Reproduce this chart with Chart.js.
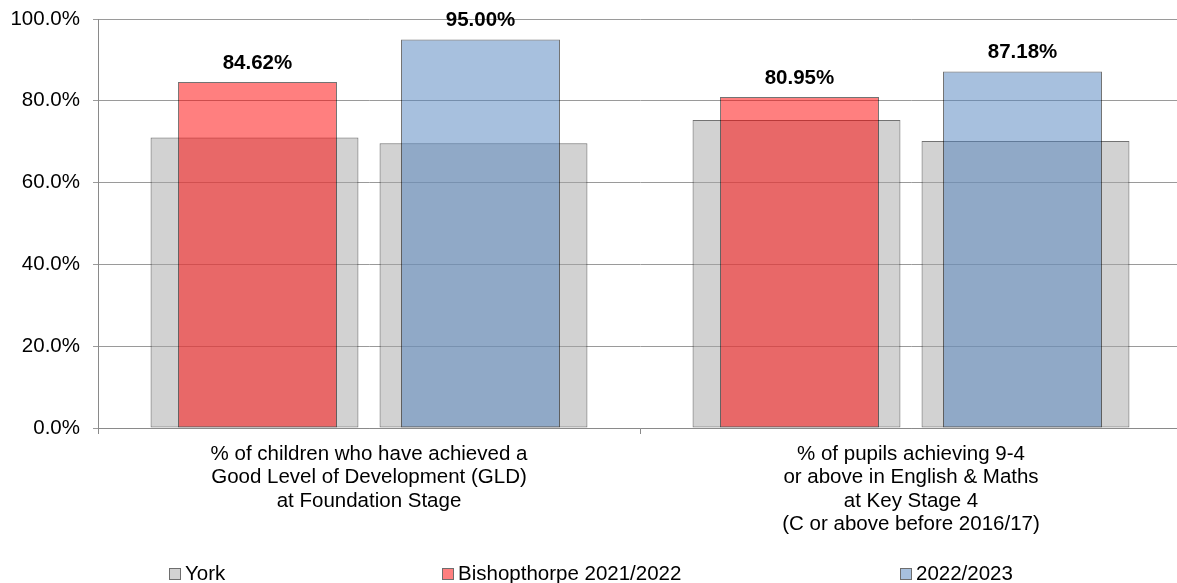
<!DOCTYPE html>
<html>
<head>
<meta charset="utf-8">
<title>York vs Bishopthorpe</title>
<script src="https://cdn.jsdelivr.net/npm/chart.js@4.4.1/dist/chart.umd.min.js"></script>
<style>
  html, body { margin: 0; padding: 0; background: #fff; overflow: hidden; }
  #wrap { position: relative; width: 1177px; height: 583px; overflow: hidden; }
  #chart-box { position: absolute; left: 0; top: 0; width: 1190px; height: 583px; }
  .legend-item { position: absolute; top: 562px; height: 22px; font: 20.5px 'Liberation Sans', Arial, sans-serif; line-height: 22px; color: #000; white-space: nowrap; }
  .legend-swatch { position: absolute; left: 0; top: 6px; width: 10px; height: 10px; border: 1px solid #6e6e6e; }
  .legend-text { position: absolute; left: 16px; top: 0; }
</style>
</head>
<body>
<div id="wrap">
  <div id="chart-box"><canvas id="results-chart"></canvas></div>
  <div id="legend"></div>
</div>
<script>
// --- data ---
const categories = [
    ['% of children who have achieved a', 'Good Level of Development (GLD)', 'at Foundation Stage'],
    ['% of pupils achieving 9-4', 'or above in English & Maths', 'at Key Stage 4', '(C or above before 2016/17)']
];
const yorkFirstYear = [71.0, 75.3];
const yorkSecondYear = [69.6, 70.2];
const bishopthorpe2122 = [84.62, 80.95];
const bishopthorpe2223 = [95.00, 87.18];
const yTicks = [0, 20, 40, 60, 80, 100];

const FONT = "'Liberation Sans', Arial, sans-serif";
const greyFill = 'rgba(165,165,165,0.5)';
const redFill = 'rgba(255,0,0,0.5)';
const blueFill = 'rgba(79,129,189,0.5)';
const barEdge = 'rgba(0,0,0,0.55)';

// draws the bold value above the Bishopthorpe bars
const valueLabels = {
    id: 'valueLabels',
    afterDatasetsDraw(chart) {
        const ctx = chart.ctx;
        ctx.save();
        ctx.font = 'bold 20.5px ' + FONT;
        ctx.fillStyle = '#000';
        ctx.textAlign = 'center';
        ctx.textBaseline = 'alphabetic';
        chart.data.datasets.forEach((ds, i) => {
            if (!ds.showValue) return;
            chart.getDatasetMeta(i).data.forEach((bar, j) => {
                ctx.fillText(ds.data[j].toFixed(2) + '%', bar.x, bar.y - 13);
            });
        });
        ctx.restore();
    }
};

// York bars sit behind the Bishopthorpe bars of the same year slot ('a' / 'b')
const datasets = [
    {
        label: 'York', data: yorkFirstYear, stack: 'a',
        backgroundColor: greyFill, borderColor: barEdge, borderWidth: 1, borderSkipped: false,
        categoryPercentage: 0.845, barPercentage: 0.908, order: 2
    },
    {
        label: 'York', data: yorkSecondYear, stack: 'b', hideInLegend: true,
        backgroundColor: greyFill, borderColor: barEdge, borderWidth: 1, borderSkipped: false,
        categoryPercentage: 0.845, barPercentage: 0.908, order: 2
    },
    {
        label: 'Bishopthorpe 2021/2022', data: bishopthorpe2122, stack: 'a', showValue: true,
        backgroundColor: redFill, borderColor: barEdge, borderWidth: 1, borderSkipped: false,
        categoryPercentage: 0.823, barPercentage: 0.713, order: 1
    },
    {
        label: '2022/2023', data: bishopthorpe2223, stack: 'b', showValue: true,
        backgroundColor: blueFill, borderColor: barEdge, borderWidth: 1, borderSkipped: false,
        categoryPercentage: 0.823, barPercentage: 0.713, order: 1
    }
];

const chart = new Chart(document.getElementById('results-chart'), {
    type: 'bar',
    data: { labels: categories, datasets: datasets },
    options: {
        responsive: true,
        maintainAspectRatio: false,
        animation: false,
        layout: { padding: { top: 19, right: 8, bottom: 0, left: 0 } },
        plugins: {
            legend: { display: false },
            tooltip: { enabled: false }
        },
        scales: {
            x: {
                type: 'category',
                offset: true,
                grid: { display: true, drawOnChartArea: false, offset: true, tickLength: 6, color: '#8a8a8a' },
                border: { color: '#8a8a8a' },
                ticks: {
                    color: '#000', padding: 9, maxRotation: 0, autoSkip: false,
                    font: { family: FONT, size: 20.5, lineHeight: 1.13 }
                },
                afterFit(scale) { scale.height = 155; }
            },
            y: {
                min: 0,
                max: 100,
                stacked: false,
                grid: { color: '#9a9a9a', tickLength: 5 },
                border: { color: '#8a8a8a' },
                ticks: {
                    color: '#000', padding: 13,
                    font: { family: FONT, size: 20.5 },
                    callback: v => v.toFixed(1) + '%'
                },
                afterBuildTicks(scale) { scale.ticks = yTicks.map(v => ({ value: v })); },
                afterFit(scale) {
                    scale.width = 98;
                    scale.paddingTop = 0;
                    scale.paddingBottom = 0;
                }
            }
        }
    },
    plugins: [valueLabels]
});

// legend below the chart, spaced like the original
const legendLefts = [169, 442, 900];
const legendBox = document.getElementById('legend');
datasets.filter(ds => !ds.hideInLegend).forEach((ds, i) => {
    const item = document.createElement('div');
    item.className = 'legend-item';
    item.style.left = legendLefts[i] + 'px';
    item.innerHTML = '<span class="legend-swatch" style="background:' + ds.backgroundColor + '"></span>' +
        '<span class="legend-text">' + ds.label + '</span>';
    legendBox.appendChild(item);
});
</script>
</body>
</html>
